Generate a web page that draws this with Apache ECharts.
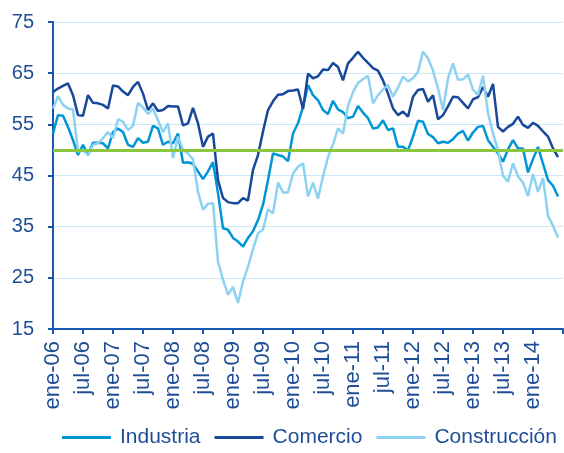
<!DOCTYPE html>
<html>
<head>
<meta charset="utf-8">
<script src="https://cdn.jsdelivr.net/npm/echarts@6/dist/echarts.min.js"></script>
<style>
  html, body { margin: 0; padding: 0; background: #fff; }
  #main { width: 564px; height: 453px; }
</style>
</head>
<body>
<div id="main"></div>
<script>
// meses ene-06 .. jul-14
const monthNames = ['ene', 'feb', 'mar', 'abr', 'may', 'jun', 'jul', 'ago', 'sep', 'oct', 'nov', 'dic']
const years = ['06', '07', '08', '09', '10', '11', '12', '13', '14']
const months = []
years.forEach(y => monthNames.forEach(m => { if (months.length < 103) months.push(m + '-' + y) }))

const industria = [
  53.2, 56.8, 56.7, 54.5, 51.9, 49.0, 51.0, 49.0, 51.4, 51.4,
  51.3, 50.3, 53.5, 54.2, 53.5, 51.0, 50.6, 52.3, 51.4, 51.6,
  54.7, 54.2, 51.0, 51.6, 51.3, 53.2, 47.5, 47.6, 47.3, 45.8,
  44.3, 45.8, 47.6, 41.5, 34.7, 34.4, 32.8, 32.1, 31.1, 32.8,
  34.1, 36.3, 39.3, 44.1, 49.3, 49.0, 48.7, 47.8, 53.2, 55.2,
  58.4, 62.7, 60.7, 59.7, 57.8, 57.0, 59.6, 57.9, 57.4, 56.2,
  56.5, 58.6, 57.3, 56.2, 54.2, 54.4, 55.8, 53.9, 54.2, 50.6,
  50.6, 49.9, 52.6, 55.7, 55.5, 53.1, 52.5, 51.3, 51.6, 51.4,
  52.1, 53.2, 53.7, 51.8, 53.4, 54.5, 54.7, 51.9, 50.6, 49.3,
  47.7, 50.1, 51.9, 50.3, 50.3, 45.6, 48.2, 50.6, 47.3, 44.1,
  43.0, 40.9
]
const comercio = [
  61.3, 62.0, 62.5, 63.0, 60.7, 56.8, 56.7, 60.7, 59.2, 59.1,
  58.8, 58.1, 62.6, 62.4, 61.4, 60.7, 62.3, 63.3, 61.0, 57.8,
  59.1, 57.6, 57.8, 58.6, 58.5, 58.5, 54.8, 55.2, 58.2, 55.2,
  50.6, 52.6, 53.2, 44.1, 40.6, 39.8, 39.6, 39.6, 40.6, 40.1,
  46.1, 49.0, 53.6, 57.8, 59.5, 60.8, 60.9, 61.5, 61.6, 61.8,
  58.0, 64.9, 64.0, 64.4, 65.7, 65.6, 67.0, 66.2, 63.6, 66.9,
  68.0, 69.2, 68.0, 67.0, 66.0, 65.5, 63.6, 61.0, 58.1, 56.8,
  57.5, 56.5, 60.4, 61.7, 61.9, 59.4, 60.7, 56.0, 56.8, 58.5,
  60.4, 60.3, 59.2, 58.1, 59.9, 60.3, 62.3, 60.4, 62.9, 54.5,
  53.6, 54.5, 55.1, 56.5, 54.9, 54.3, 55.3, 54.7, 53.6, 52.6,
  50.3, 48.6
]
const construccion = [
  58.1, 60.5, 58.8, 58.1, 57.9, 49.7, 49.9, 49.0, 51.0, 51.3,
  52.3, 53.5, 52.3, 56.0, 55.5, 53.9, 54.7, 59.2, 58.3, 57.0,
  58.1, 55.8, 53.5, 55.2, 48.4, 52.6, 50.0, 49.3, 48.2, 41.8,
  38.3, 39.5, 39.6, 28.2, 24.6, 21.7, 23.2, 20.1, 24.3, 27.2,
  30.6, 33.7, 34.4, 38.4, 37.6, 43.6, 41.7, 41.7, 45.4, 46.7,
  47.4, 40.9, 43.6, 40.5, 44.8, 48.6, 51.1, 54.2, 53.2, 58.6,
  61.3, 63.1, 63.8, 64.5, 59.1, 60.7, 61.8, 62.7, 60.4, 62.2,
  64.3, 63.4, 64.0, 65.3, 69.2, 67.9, 65.5, 62.0, 57.8, 64.0,
  66.9, 63.7, 63.8, 64.7, 61.8, 60.7, 64.5, 57.2, 53.2, 50.0,
  44.9, 43.8, 47.4, 44.8, 43.6, 41.0, 45.3, 41.8, 44.5, 37.1,
  35.2, 32.9
]
const threshold = 50

const FONT = 'Liberation Sans, Arial, sans-serif'
const TEXT = '#1F4E96'
const AXIS = '#1B56AE'

const chart = echarts.init(document.getElementById('main'))
const option = {
  animation: false,
  grid: { left: 53, right: 1, top: 22, bottom: 124, containLabel: false },
  legend: {
    left: 62,
    top: 427,
    width: 560,
    padding: 0,
    itemWidth: 49,
    itemHeight: 3,
    itemGap: 14,
    icon: 'rect',
    textStyle: { color: TEXT, fontSize: 21, fontFamily: FONT, padding: [0, 0, 0, 4] },
    data: ['Industria', 'Comercio', 'Construcción'],
  },
  xAxis: {
    type: 'category',
    boundaryGap: false,
    data: months,
    axisLine: { lineStyle: { color: AXIS, width: 2 } },
    axisTick: {
      interval: (idx) => idx % 6 === 0,
      length: 5,
      lineStyle: { color: AXIS, width: 2 },
    },
    axisLabel: {
      interval: (idx) => idx % 6 === 0 && idx < 102,
      rotate: 90,
      margin: 12,
      color: TEXT,
      fontSize: 22,
      fontFamily: FONT,
    },
    splitLine: { show: false },
  },
  yAxis: {
    type: 'value',
    min: 15,
    max: 75,
    interval: 10,
    axisLine: { show: true, lineStyle: { color: AXIS, width: 2 } },
    axisTick: { show: true, length: 5, lineStyle: { color: AXIS, width: 2 } },
    axisLabel: { color: TEXT, fontSize: 20, fontFamily: FONT, margin: 19 },
    splitLine: { lineStyle: { color: '#C8E8F7', width: 1 } },
  },
  series: [
    {
      name: 'Industria',
      type: 'line',
      showSymbol: false,
      data: industria,
      lineStyle: { color: '#0096D6', width: 2.5 },
      itemStyle: { color: '#0096D6' },
    },
    {
      name: 'Comercio',
      type: 'line',
      showSymbol: false,
      data: comercio,
      lineStyle: { color: '#17489A', width: 2.5 },
      itemStyle: { color: '#17489A' },
    },
    {
      name: 'Construcción',
      type: 'line',
      showSymbol: false,
      data: construccion,
      lineStyle: { color: '#8ED2F2', width: 2.5 },
      itemStyle: { color: '#8ED2F2' },
      markLine: {
        silent: true,
        symbol: 'none',
        z: 10,
        label: { show: false },
        lineStyle: { color: '#8CC63E', width: 3, type: 'solid' },
        data: [{ yAxis: threshold }],
      },
    },
  ],
}
chart.setOption(option)
</script>
</body>
</html>
